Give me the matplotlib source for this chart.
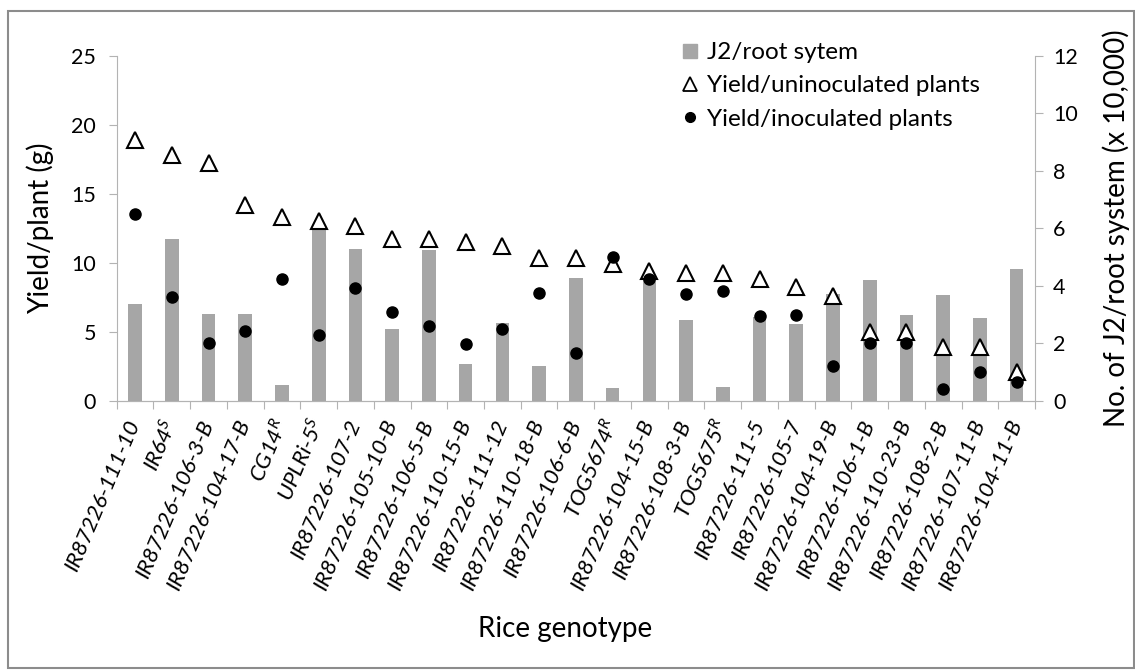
import numpy as np
import matplotlib.pyplot as plt
from matplotlib.lines import Line2D
from matplotlib.patches import Rectangle

plt.rcParams['font.family'] = ['Lato', 'DejaVu Sans']
plt.rcParams['mathtext.fontset'] = 'custom'
plt.rcParams['mathtext.rm'] = 'Lato'
plt.rcParams['mathtext.it'] = 'Lato:italic'

# data
genotypes = ['IR87226-111-10', 'IR64$^{S}$', 'IR87226-106-3-B', 'IR87226-104-17-B',
             'CG14$^{R}$', 'UPLRi-5$^{S}$', 'IR87226-107-2', 'IR87226-105-10-B',
             'IR87226-106-5-B', 'IR87226-110-15-B', 'IR87226-111-12', 'IR87226-110-18-B',
             'IR87226-106-6-B', 'TOG5674$^{R}$', 'IR87226-104-15-B', 'IR87226-108-3-B',
             'TOG5675$^{R}$', 'IR87226-111-5', 'IR87226-105-7', 'IR87226-104-19-B',
             'IR87226-106-1-B', 'IR87226-110-23-B', 'IR87226-108-2-B', 'IR87226-107-11-B',
             'IR87226-104-11-B']
j2_root = [3.36, 5.63, 3.02, 3.02, 0.56, 6.0, 5.29, 2.51, 5.26, 1.30, 2.72, 1.20, 4.27,
           0.44, 4.30, 2.81, 0.50, 2.91, 2.66, 3.72, 4.20, 2.98, 3.67, 2.87, 4.60]
yield_uninoc = [18.9, 17.8, 17.2, 14.2, 13.3, 13.0, 12.7, 11.7, 11.7, 11.5, 11.25, 10.35,
                10.35, 9.9, 9.4, 9.25, 9.25, 8.8, 8.25, 7.6, 5.0, 5.0, 3.9, 3.9, 2.1]
yield_inoc = [13.55, 7.55, 4.2, 5.1, 8.85, 4.8, 8.15, 6.45, 5.4, 4.15, 5.2, 7.85, 3.5,
              10.45, 8.85, 7.75, 7.95, 6.15, 6.25, 2.5, 4.2, 4.2, 0.9, 2.1, 1.4]

W, H = 1135, 670
fig = plt.figure(figsize=(W / 100, H / 100), dpi=100)
x = np.arange(len(genotypes))
grey = '#b3b3b3'

ax = fig.add_axes([116.7 / W, 1 - 401 / H, (1035 - 116.7) / W, (401 - 55.7) / H])
axb = ax.twinx()
axb.set_zorder(ax.get_zorder() - 1)
ax.patch.set_visible(False)

# bars on the right axis
axb.bar(x, j2_root, width=0.37, color='#a6a6a6', zorder=2)
axb.set_ylim(0, 12)
axb.set_yticks(range(0, 13, 2))

# yields on the left axis
ax.plot(x, yield_uninoc, linestyle='none', marker='^', ms=11, mfc='white',
        mec='black', mew=1.5, zorder=3)
ax.plot(x, yield_inoc, linestyle='none', marker='o', ms=8, color='black', zorder=4)
ax.set_ylim(0, 25)
ax.set_yticks(range(0, 26, 5))
ax.set_xlim(-0.5, len(genotypes) - 0.5)

# ticks between categories, labels at category centres
ax.set_xticks(np.arange(-0.5, len(genotypes), 1))
ax.set_xticklabels([])
ax.set_xticks(x, minor=True)
ax.set_xticklabels(genotypes, minor=True, rotation=67, ha='right', va='center',
                   rotation_mode='anchor', fontsize=16, style='italic')
ax.tick_params(axis='x', which='major', length=6, color=grey, direction='out')
ax.tick_params(axis='x', which='minor', length=0, pad=14)

for a in (ax, axb):
    for s in a.spines.values():
        s.set_color(grey)
    a.spines['top'].set_visible(False)
ax.spines['right'].set_visible(False)
axb.spines['left'].set_visible(False)
ax.tick_params(axis='y', length=6, color=grey, labelsize=15.5, pad=9)
axb.tick_params(axis='y', length=6, color=grey, labelsize=15.5, pad=7)

ax.set_ylabel('Yield/plant (g)', fontsize=20)
ax.yaxis.set_label_coords((40 - 116.7) / (1035 - 116.7), 0.5)
axb.set_ylabel('No. of J2/root system (x 10,000)', fontsize=20)
axb.yaxis.set_label_coords((1116 - 116.7) / (1035 - 116.7), 0.5)
ax.set_xlabel('Rice genotype', fontsize=20)
ax.xaxis.set_label_coords((565 - 116.7) / (1035 - 116.7), -(629 - 401) / (401 - 55.7))
ax.xaxis.label.set_va('center')
ax.yaxis.label.set_va('center')
axb.yaxis.label.set_va('center')

handles = [
    Line2D([0], [0], linestyle='none', marker='s', ms=10, color='#a6a6a6'),
    Line2D([0], [0], linestyle='none', marker='^', ms=10, mfc='white', mec='black', mew=1.3),
    Line2D([0], [0], linestyle='none', marker='o', ms=7, color='black'),
]
labels = ['J2/root sytem', 'Yield/uninoculated plants', 'Yield/inoculated plants']
fig.legend(handles, labels, loc='upper left', bbox_to_anchor=(668 / W, 1 - 30 / H),
           frameon=False, fontsize=17.5, handlelength=0.8, handletextpad=0.3,
           labelspacing=0.5, borderpad=0)

# outer chart frame
fig.add_artist(Rectangle((8 / W, 2 / H), (W - 9) / W, (H - 13) / H, transform=fig.transFigure,
                         fill=False, edgecolor='#8c8c8c', lw=1.5))

fig.savefig('out.png', dpi=100)
